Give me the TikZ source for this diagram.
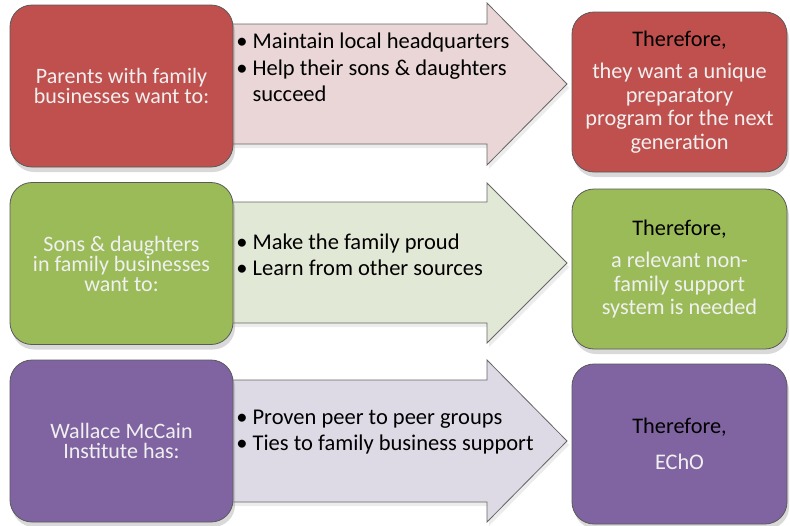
\documentclass[tikz,border=0pt]{standalone}
\usepackage{fontspec}
\setmainfont{Carlito}
\usetikzlibrary{shadows}
\definecolor{boxred}{HTML}{C0504D}
\definecolor{boxgreen}{HTML}{9BBB59}
\definecolor{boxpurple}{HTML}{8064A2}
\definecolor{arrowred}{HTML}{EAD6D6}
\definecolor{arrowgreen}{HTML}{E2E8D6}
\definecolor{arrowpurple}{HTML}{DDDAE6}

\begin{document}
\begin{tikzpicture}[x=1pt,y=-1pt,line width=0.8pt,
  side box/.style={rectangle,rounded corners=22pt,draw=black!65,
  minimum width=223pt,minimum height=162pt,inner sep=4pt,align=center,
  text=white!94!black,font=\fontsize{22}{20}\selectfont,
  drop shadow={opacity=0.3,shadow xshift=2pt,shadow yshift=-5pt}},
  end box/.style={side box,minimum width=215pt,minimum height=160pt,
  font=\fontsize{22.3}{23.5}\selectfont},
  big arrow/.style={draw=black!60,
  drop shadow={opacity=0.15,shadow xshift=2pt,shadow yshift=-4pt}},
  list text/.style={anchor=west,inner sep=0pt,
  font=\fontsize{22.5}{26.5}\selectfont}]

  \useasboundingbox (0,0) rectangle (790,525);

  %Big arrows drawn first, so the boxes sit on top%
  \path[big arrow,fill=arrowred] (215,24) -- (487,24) -- (487,3) -- (567,84)
    -- (487,165) -- (487,144) -- (215,144) -- cycle;
  \path[big arrow,fill=arrowgreen] (215,202) -- (487,202) -- (487,183) -- (567,263)
    -- (487,343) -- (487,323) -- (215,323) -- cycle;
  \path[big arrow,fill=arrowpurple] (215,380) -- (487,380) -- (487,360) -- (567,441)
    -- (487,522) -- (487,502) -- (215,502) -- cycle;

  %Red row: parents%
  \node[side box,fill=boxred] (parents) at (121.5,86)
    {Parents with family\\businesses want to:};
  \node[list text] (parentslist) at (236,70) {\begin{tabular}{@{}l@{\hspace{5pt}}l@{}}
    \textbullet & Maintain local headquarters\\
    \textbullet & Help their sons \& daughters\\
    & succeed\end{tabular}};
  \node[end box,fill=boxred] (want) at (679.5,92)
    {{\color{black}Therefore,}\\[9pt]they want a unique\\preparatory\\program for the next\\generation};

  %Green row: sons and daughters%
  \node[side box,fill=boxgreen] (sons) at (121.5,263.5)
    {Sons \& daughters\\in family businesses\\want to:};
  \node[list text] (sonslist) at (236,257) {\begin{tabular}{@{}l@{\hspace{5pt}}l@{}}
    \textbullet & Make the family proud\\
    \textbullet & Learn from other sources\end{tabular}};
  \node[end box,fill=boxgreen] (support) at (679.5,269)
    {{\color{black}Therefore,}\\[9pt]a relevant non-\\family support\\system is needed};

  %Purple row: the institute%
  \node[side box,fill=boxpurple] (institute) at (121.5,441)
    {Wallace McCain\\Institute has:};
  \node[list text] (institutelist) at (236,432) {\begin{tabular}{@{}l@{\hspace{5pt}}l@{}}
    \textbullet & Proven peer to peer groups\\
    \textbullet & Ties to family business support\end{tabular}};
  \node[end box,fill=boxpurple] (echo) at (679.5,444)
    {{\color{black}Therefore,}\\[12pt]EChO};

\end{tikzpicture}
\end{document}
